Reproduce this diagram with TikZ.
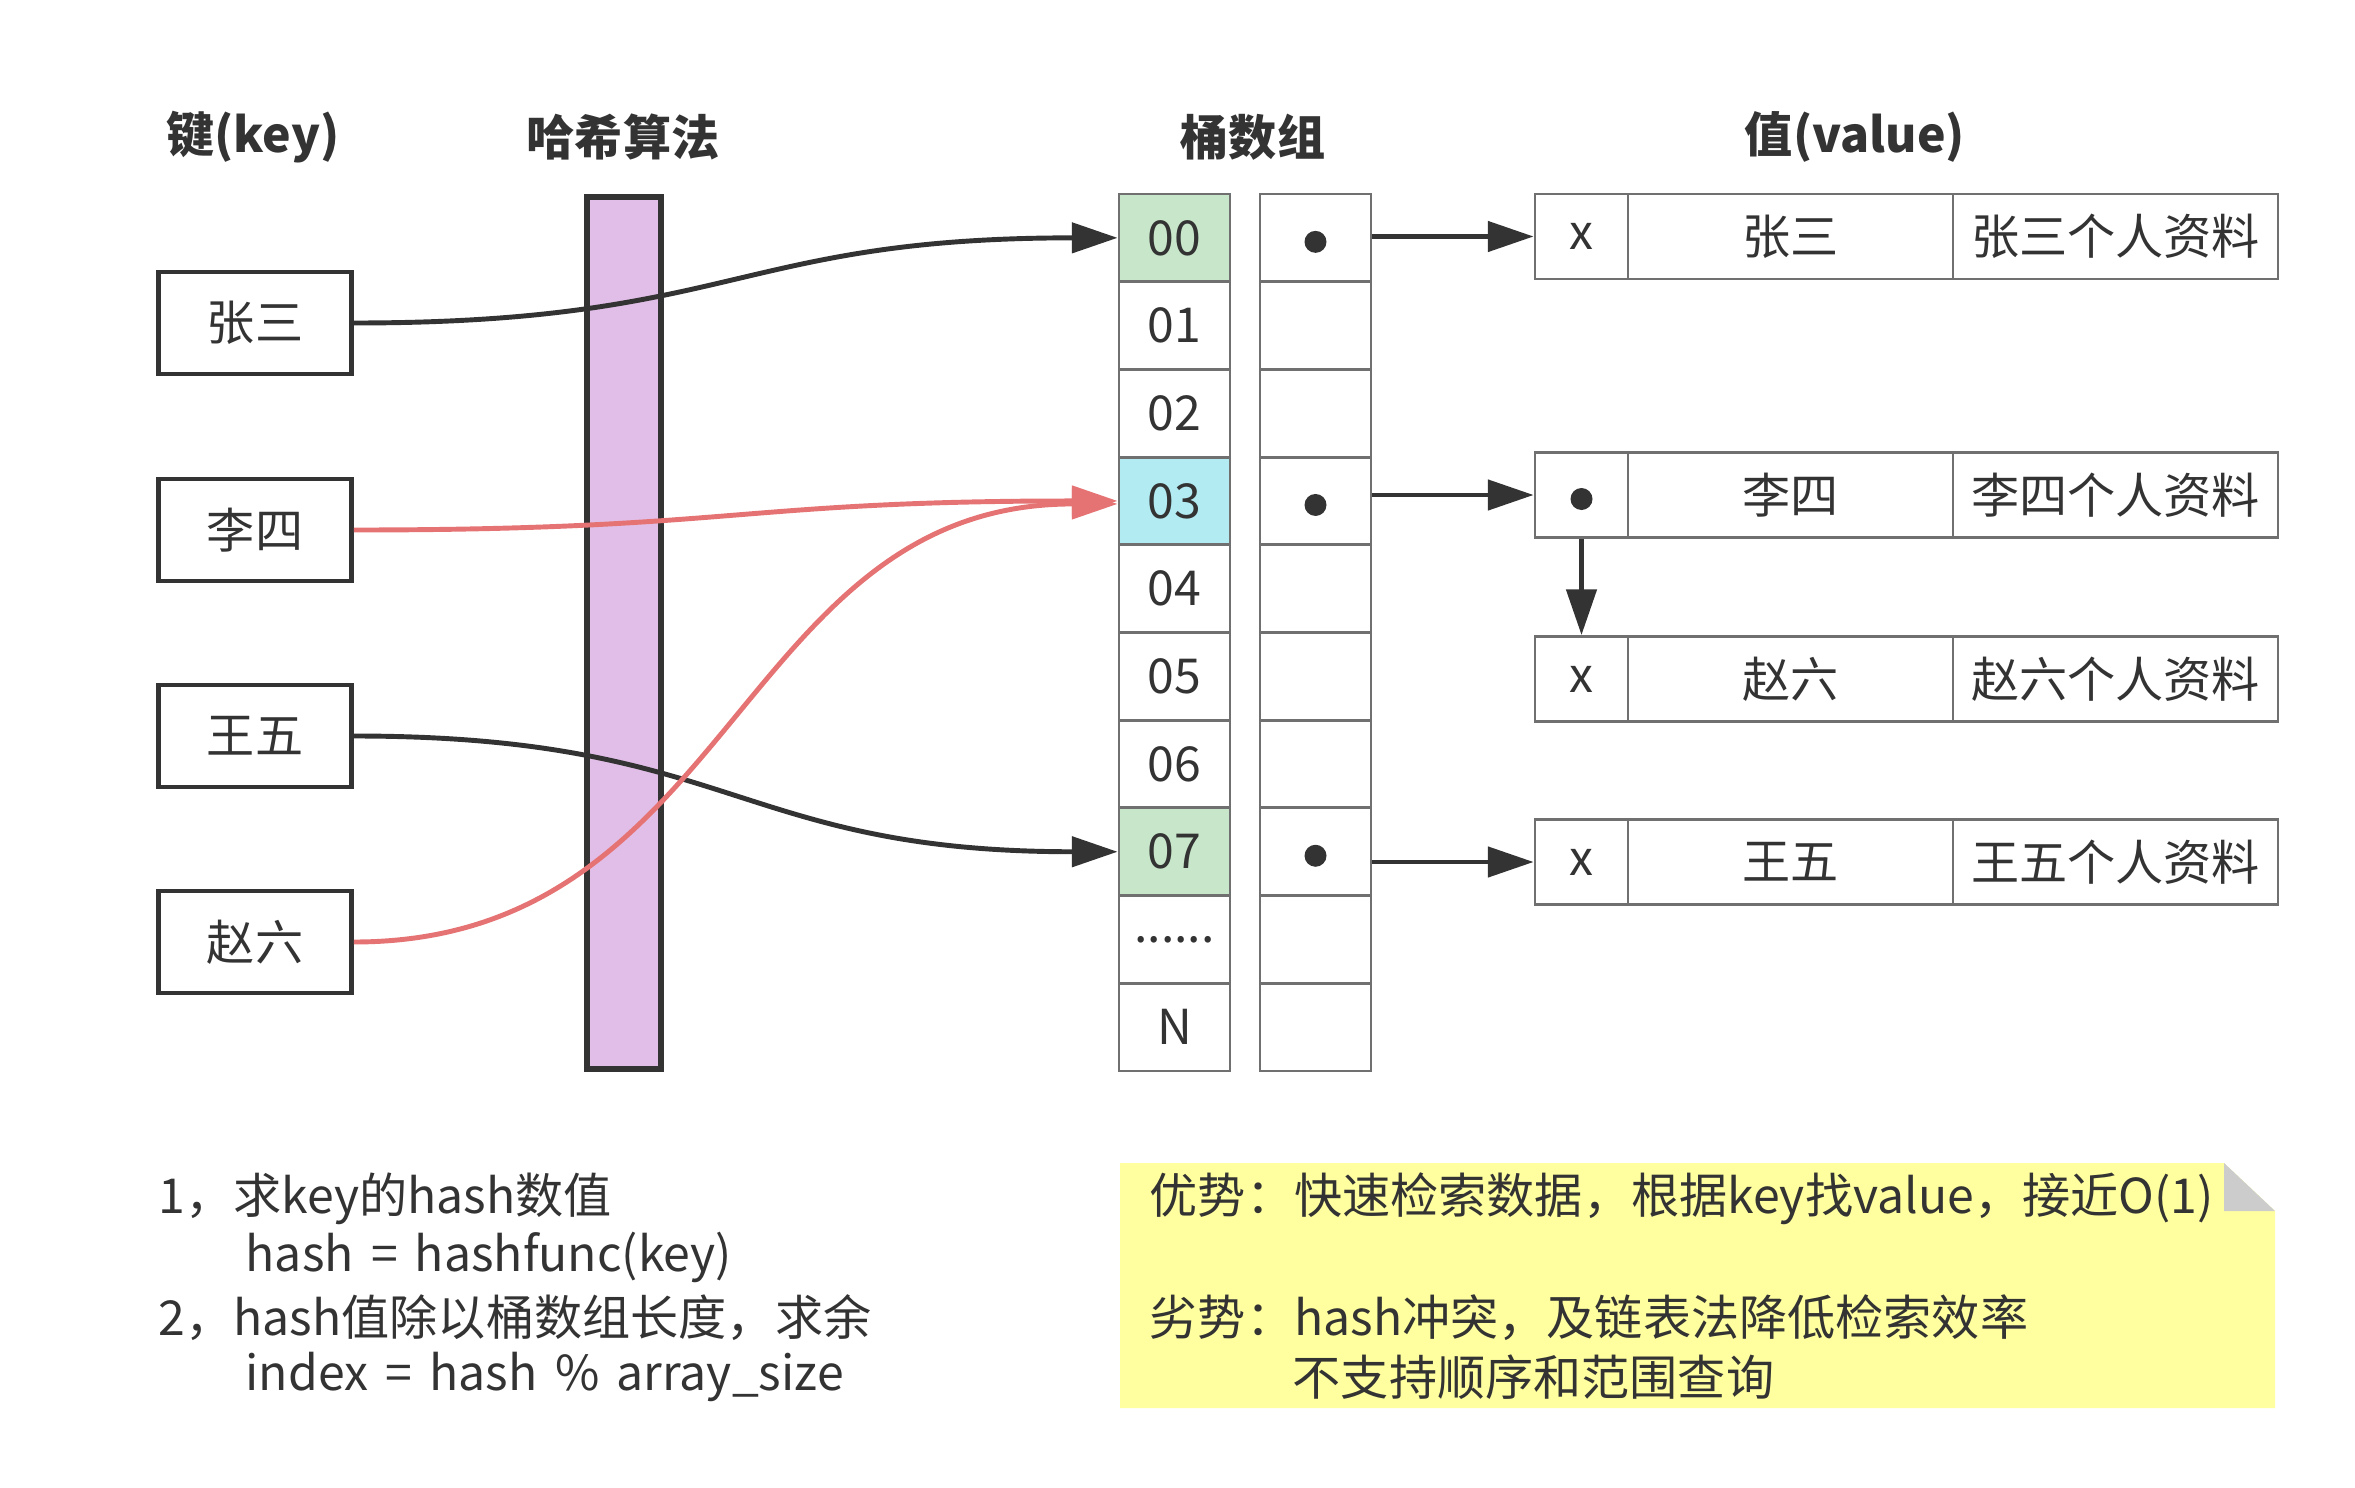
\documentclass[tikz,border=0pt]{standalone}
\usepackage{fontspec}
\setmainfont{Noto Sans CJK SC}[WordSpace=1.6]
\usetikzlibrary{arrows.meta}
\definecolor{dk}{HTML}{333333}
\definecolor{gr}{HTML}{707070}
\definecolor{cgreen}{HTML}{C8E6C9}
\definecolor{ccyan}{HTML}{B2EBF2}
\definecolor{cpurple}{HTML}{E1BEE7}
\definecolor{cred}{HTML}{E57373}
\definecolor{cyellow}{HTML}{FFFFA0}
\definecolor{cfold}{HTML}{CCCCCC}
\newcommand\mysixdots{......}
\begin{document}
\begin{tikzpicture}[x=0.1mm,y=-0.1mm,
  txt/.style={font=\fontsize{13.7pt}{16pt}\selectfont, text=dk, inner sep=0pt},
  ttl/.style={font=\fontsize{13.7pt}{16pt}\selectfont\bfseries, text=dk, inner sep=0pt},
  keybox/.style={txt, draw=dk, line width=1.4pt, minimum width=19.3mm, minimum height=10.2mm},
  cell/.style={txt, draw=gr, line width=0.8pt, minimum width=11.1mm, minimum height=8.77mm},
  vcell/.style={txt, draw=gr, line width=0.8pt, minimum height=8.5mm},
  dot/.style={circle, fill=dk, inner sep=0pt, minimum size=2.2mm, yshift=-0.4mm},
  arr/.style={draw=dk, line width=1.4pt, -{Triangle[length=13pt,width=8.5pt]}},
  rarr/.style={draw=cred, line width=1.4pt, -{Triangle[length=13pt,width=8.5pt]}},
]
\useasboundingbox (0,0) rectangle (2355,1488);

% titles
\node[ttl] (t1) at (253,137) {键(key)};
\node[ttl] (t2) at (623,137) {哈希算法};
\node[ttl] (t3) at (1253,137) {桶数组};
\node[ttl] (t4) at (1855,137) {值(value)};

% hash bar
\node[draw=dk, fill=cpurple, line width=1.7pt, minimum width=7.4mm, minimum height=87.2mm, inner sep=0pt] (bar) at (624,633) {};

% key boxes
\node[keybox] (k0) at (255,323) {张三};
\node[keybox] (k1) at (255,530) {李四};
\node[keybox] (k2) at (255,736) {王五};
\node[keybox] (k3) at (255,942) {赵六};

% bucket array
\foreach \i/\lab/\col in {0/00/cgreen,1/01/white,2/02/white,3/03/ccyan,4/04/white,5/05/white,6/06/white,7/07/cgreen,8/\mysixdots/white,9/N/white}{
  \node[cell, fill=\col] (b\i) at (1174.5,{194+87.7*(\i+0.5)}) {\lab};
  \node[cell] (p\i) at (1315.5,{194+87.7*(\i+0.5)}) {};
}
\node[dot] (d0) at (p0) {};
\node[dot] (d3) at (p3) {};
\node[dot] (d7) at (p7) {};

% value rows
\foreach \r/\y/\a/\nm in {0/236.5/x/张三,1/495/{}/李四,2/679/x/赵六,3/862/x/王五}{
  \node[vcell, minimum width=9.3mm] (v\r a) at (1581.5,\y) {\a};
  \node[vcell, minimum width=32.5mm] (v\r b) at (1790.5,\y) {\nm};
  \node[vcell, minimum width=32.5mm] (v\r c) at (2115.5,\y) {\nm 个人资料};
}
\node[dot] (d1) at (v1a) {};

% pointer arrows
\draw[arr] (p0.east |- v0a.west) -- (v0a.west);
\draw[arr] (p3.east |- v1a.west) -- (v1a.west);
\draw[arr] (p7.east |- v3a.west) -- (v3a.west);
\draw[arr] (v1a.south) -- (v2a.north);

% hash curves
\draw[arr] (k0.east) .. controls +(380,0) and +(-380,0) .. (b0.west);
\draw[rarr] (k1.east) .. controls +(380,0) and +(-380,0) .. (b3.west);
\draw[arr] (k2.east) .. controls +(380,0) and +(-380,0) .. (b7.west);
\draw[rarr] (k3.east) .. controls +(380,0) and +(-380,0) .. ([yshift=-0.3mm]b3.west);

% bottom-left explanation
\node[txt, anchor=west] (e1) at (158,1199) {1，求key的hash数值};
\node[txt, anchor=west] (e2) at (245,1257) {hash = hashfunc(key)};
\node[txt, anchor=west] (e3) at (158,1318) {2，hash值除以桶数组长度，求余};
\node[txt, anchor=west] (e4) at (245,1377) {index = hash \% array\_size};

% note
\fill[cyellow] (1120,1163) -- (2224,1163) -- (2275,1211) -- (2275,1408) -- (1120,1408) -- cycle;
\fill[cfold] (2224,1163) -- (2275,1211) -- (2224,1211) -- cycle;
\node[txt, anchor=west] (n1) at (1149,1199) {优势：快速检索数据，根据key找value，接近O(1)};
\node[txt, anchor=west] (n2) at (1149,1318) {劣势：hash冲突，及链表法降低检索效率};
\node[txt, anchor=west] (n3) at (1292,1377) {不支持顺序和范围查询};
\end{tikzpicture}
\end{document}
